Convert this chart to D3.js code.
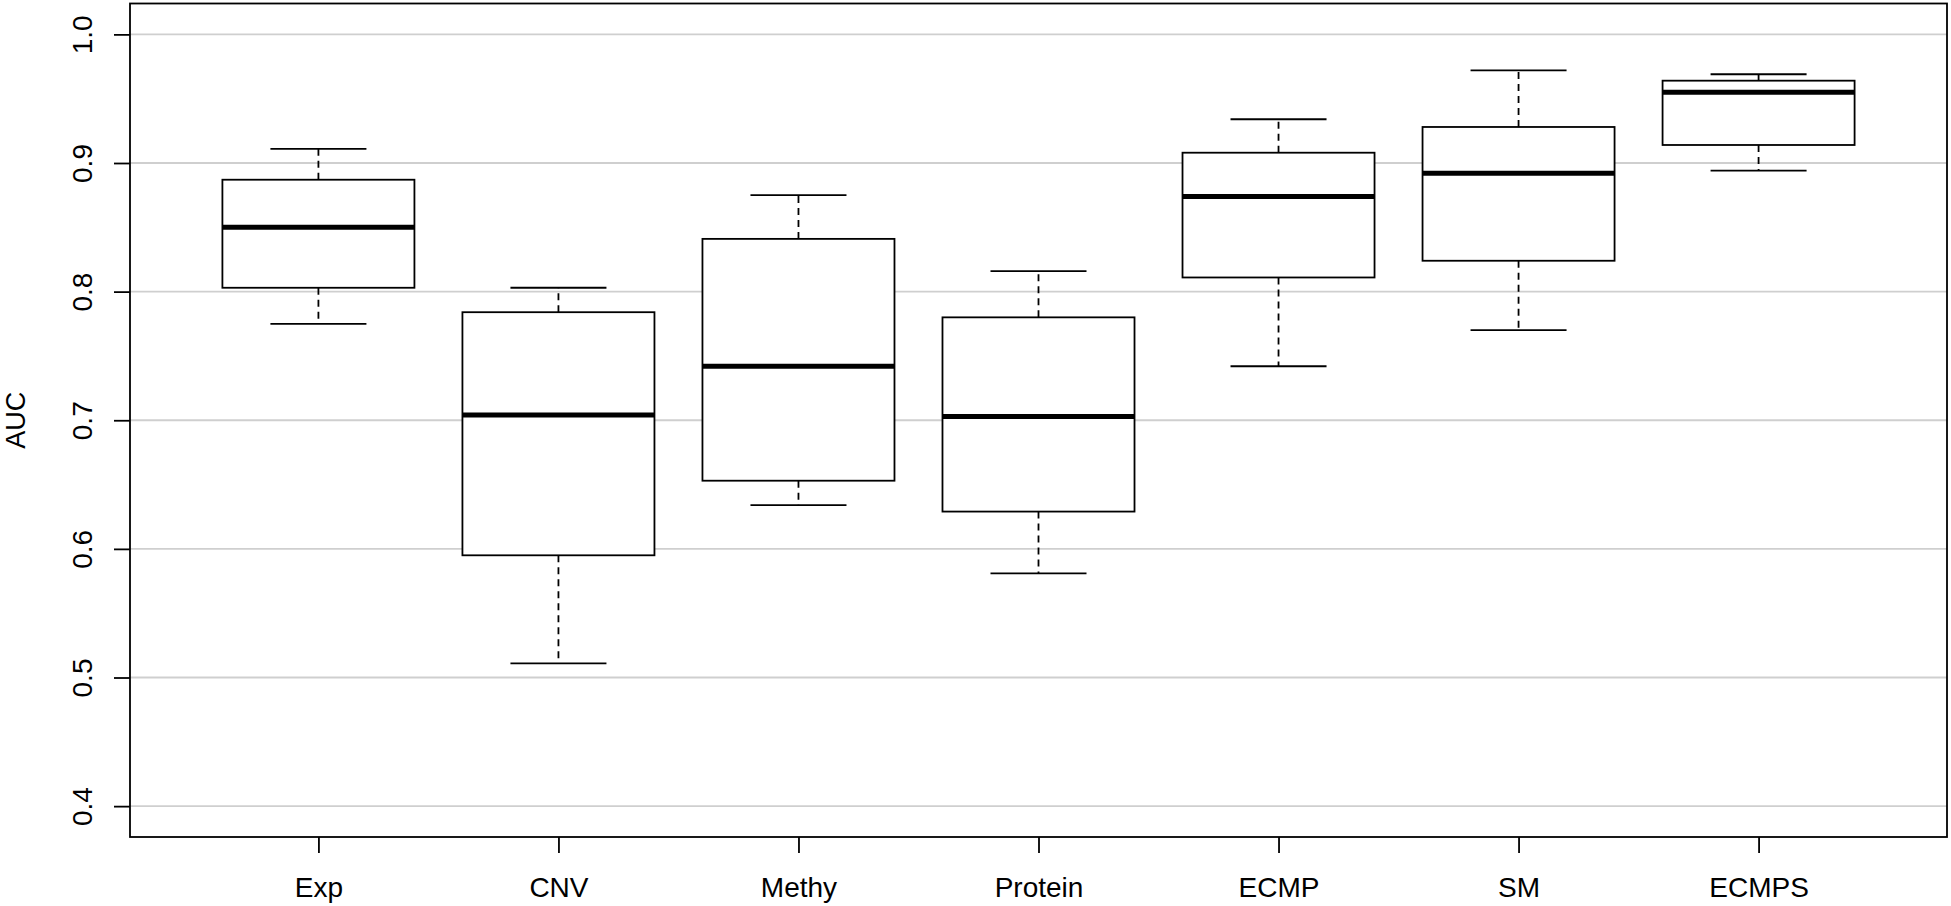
<!DOCTYPE html>
<html>

<head>
  <meta charset="UTF-8">
  <title>AUC boxplot</title>
  <script src="https://d3js.org/d3.v7.min.js"></script>
  <style>
    body {
      margin: 0;
      background: #fff;
    }

    svg text {
      font-family: "Liberation Sans", Arial, sans-serif;
      font-size: 28px;
      fill: #000;
    }
  </style>
</head>

<body>
  <svg></svg>

  <script>
    // values
    let categories = ["Exp", "CNV", "Methy", "Protein", "ECMP", "SM", "ECMPS"];
    let whiskerLow = [0.775, 0.511, 0.634, 0.581, 0.742, 0.770, 0.894];
    let q1 = [0.803, 0.595, 0.653, 0.629, 0.811, 0.824, 0.914];
    let median = [0.850, 0.704, 0.742, 0.703, 0.874, 0.892, 0.955];
    let q3 = [0.887, 0.784, 0.841, 0.780, 0.908, 0.928, 0.964];
    let whiskerHigh = [0.911, 0.803, 0.875, 0.816, 0.934, 0.972, 0.969];
    let yTicks = [0.4, 0.5, 0.6, 0.7, 0.8, 0.9, 1.0];

    let width = 1951,
      height = 906;

    let plotLeft = 130, plotRight = 1947, plotTop = 3.5, plotBottom = 837;

    let svg = d3.select("svg")
      .attr("width", width)
      .attr("height", height);

    let x = d3.scaleLinear()
      .domain([0.215, 7.785])
      .range([plotLeft, plotRight]);

    let y = d3.scaleLinear()
      .domain([0.376, 1.024])
      .range([plotBottom, plotTop]);

    let boxes = categories.map((c, i) => ({
      name: c,
      pos: i + 1,
      lo: whiskerLow[i],
      q1: q1[i],
      med: median[i],
      q3: q3[i],
      hi: whiskerHigh[i]
    }));

    // grid lines
    svg.append("g")
      .selectAll("line")
      .data(yTicks)
      .enter()
      .append("line")
      .attr("x1", plotLeft)
      .attr("x2", plotRight)
      .attr("y1", d => y(d))
      .attr("y2", d => y(d))
      .attr("stroke", "#cfcfcf")
      .attr("stroke-width", 1.8);

    // y axis
    let yAxis = svg.append("g")
      .attr("transform", "translate(" + plotLeft + ",0)")
      .call(d3.axisLeft(y).tickValues(yTicks).tickSize(16).tickFormat(d3.format(".1f")));
    yAxis.select(".domain").remove();
    yAxis.selectAll(".tick line").attr("stroke", "#000").attr("stroke-width", 1.8);
    yAxis.selectAll(".tick text")
      .attr("x", 0)
      .attr("dy", 0)
      .attr("text-anchor", "middle")
      .attr("transform", "translate(-38,0) rotate(-90)")
      .style("font-size", "28px");

    // x axis
    let xAxis = svg.append("g")
      .attr("transform", "translate(0," + plotBottom + ")")
      .call(d3.axisBottom(x).tickValues(boxes.map(d => d.pos)).tickSize(16)
        .tickFormat(d => categories[d - 1]));
    xAxis.select(".domain").remove();
    xAxis.selectAll(".tick line").attr("stroke", "#000").attr("stroke-width", 1.8);
    xAxis.selectAll(".tick text")
      .attr("y", 60)
      .attr("dy", 0)
      .style("font-size", "28px");

    // y title
    svg.append("text")
      .attr("transform", "translate(25," + ((plotTop + plotBottom) / 2) + ") rotate(-90)")
      .attr("text-anchor", "middle")
      .style("font-size", "27px")
      .text("AUC");

    let halfBox = (x(1.4) - x(1)),
      halfCap = halfBox / 2;

    let g = svg.append("g")
      .selectAll("g")
      .data(boxes)
      .enter()
      .append("g");

    // whiskers (dashed)
    g.append("line")
      .attr("x1", d => x(d.pos)).attr("x2", d => x(d.pos))
      .attr("y1", d => y(d.q3)).attr("y2", d => y(d.hi))
      .attr("stroke", "#000").attr("stroke-width", 1.8)
      .attr("stroke-dasharray", "7,5");
    g.append("line")
      .attr("x1", d => x(d.pos)).attr("x2", d => x(d.pos))
      .attr("y1", d => y(d.q1)).attr("y2", d => y(d.lo))
      .attr("stroke", "#000").attr("stroke-width", 1.8)
      .attr("stroke-dasharray", "7,5");

    // caps
    g.append("line")
      .attr("x1", d => x(d.pos) - halfCap).attr("x2", d => x(d.pos) + halfCap)
      .attr("y1", d => y(d.hi)).attr("y2", d => y(d.hi))
      .attr("stroke", "#000").attr("stroke-width", 1.8);
    g.append("line")
      .attr("x1", d => x(d.pos) - halfCap).attr("x2", d => x(d.pos) + halfCap)
      .attr("y1", d => y(d.lo)).attr("y2", d => y(d.lo))
      .attr("stroke", "#000").attr("stroke-width", 1.8);

    // boxes
    g.append("rect")
      .attr("x", d => x(d.pos) - halfBox)
      .attr("width", 2 * halfBox)
      .attr("y", d => y(d.q3))
      .attr("height", d => y(d.q1) - y(d.q3))
      .attr("fill", "#fff")
      .attr("stroke", "#000")
      .attr("stroke-width", 1.8);

    // medians
    g.append("line")
      .attr("x1", d => x(d.pos) - halfBox).attr("x2", d => x(d.pos) + halfBox)
      .attr("y1", d => y(d.med)).attr("y2", d => y(d.med))
      .attr("stroke", "#000").attr("stroke-width", 5);

    // frame
    svg.append("rect")
      .attr("x", plotLeft)
      .attr("y", plotTop)
      .attr("width", plotRight - plotLeft)
      .attr("height", plotBottom - plotTop)
      .attr("fill", "none")
      .attr("stroke", "#000")
      .attr("stroke-width", 1.8);
  </script>

</body>

</html>
